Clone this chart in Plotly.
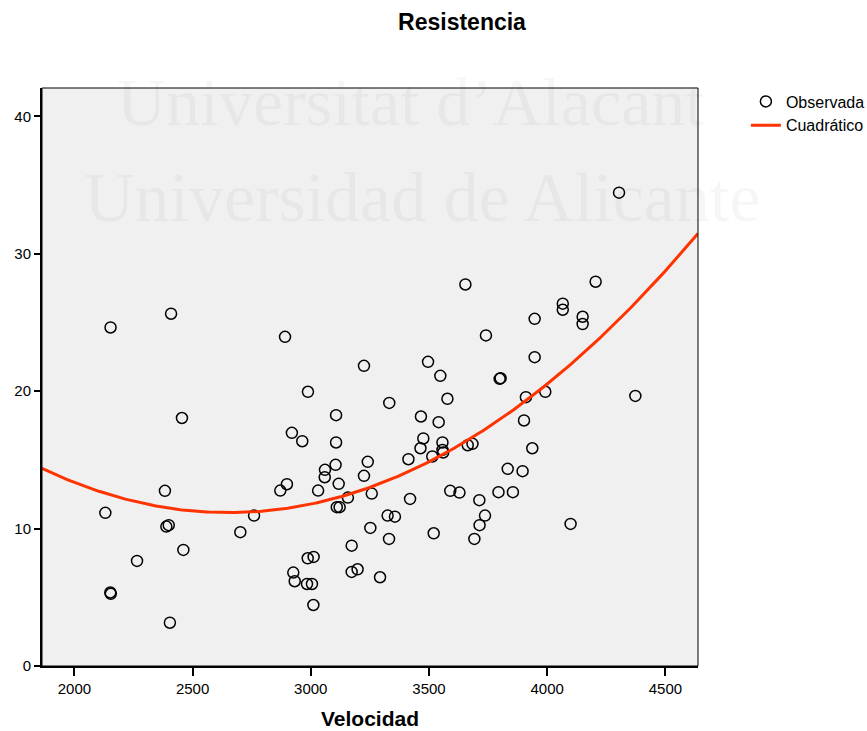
import numpy as np
import plotly.graph_objects as go

# ---- data ----
velocidad = [
    2153, 2409, 2891, 3225, 3654, 3741, 3496, 3548, 4304, 4205,
    4066, 4066, 4150, 4150, 3947, 3947, 3799, 3803, 2455, 2383,
    2131, 2389, 2399, 2760, 2702, 2461, 2265, 2152, 2154, 2404,
    2988, 3332, 3578, 3107, 3466, 3541, 2920, 2964, 3107, 3476,
    3557, 3464, 3557, 3560, 3514, 3664, 3684, 3413, 3241, 3105,
    3060, 3059, 3225, 3118, 2899, 2871, 3031, 3258, 3157, 3420,
    3590, 3629, 3713, 3737, 3714, 3692, 3110, 3122, 3325, 3356,
    3252, 3331, 3520, 3173, 2987, 3012, 2926, 2932, 2984, 3005,
    3011, 3173, 3198, 3293, 3910, 3992, 4373, 3902, 3937, 3833,
    3896, 3794, 3855, 4099,
]
resistencia = [
    24.64, 25.64, 23.96, 21.85, 27.77, 24.06, 22.14, 21.12, 34.45, 27.97,
    26.37, 25.93, 25.42, 24.89, 25.27, 22.48, 20.90, 20.95, 18.05, 12.75,
    11.15, 10.15, 10.25, 10.95, 9.74, 8.45, 7.65, 5.35, 5.25, 3.15,
    19.96, 19.15, 19.45, 18.26, 18.16, 17.75, 16.97, 16.36, 16.27, 16.56,
    16.27, 15.85, 15.73, 15.54, 15.25, 16.07, 16.17, 15.05, 14.86, 14.64,
    14.28, 13.74, 13.84, 13.26, 13.23, 12.77, 12.77, 12.55, 12.26, 12.16,
    12.75, 12.62, 12.07, 10.95, 10.25, 9.25, 11.56, 11.56, 10.95, 10.87,
    10.05, 9.25, 9.66, 8.76, 7.84, 7.94, 6.80, 6.17, 5.97, 5.97,
    4.44, 6.85, 7.04, 6.46, 19.57, 19.96, 19.66, 17.87, 15.85, 14.35,
    14.18, 12.65, 12.65, 10.34,
]
x_range = [1863, 4638]
y_range = [0, 42.07]
x_ticks = [2000, 2500, 3000, 3500, 4000, 4500]
y_ticks = [0, 10, 20, 30, 40]

# quadratic least-squares fit of the observations (as in the original "Cuadrático" model)
coef = np.polyfit(velocidad, resistencia, 2)
x_fit = np.linspace(x_range[0], x_range[1], 300)
y_fit = np.polyval(coef, x_fit)

FONT = "Liberation Sans, Arial, sans-serif"

fig = go.Figure()
fig.add_trace(go.Scatter(
    x=velocidad, y=resistencia, mode="markers", name="Observada",
    marker=dict(symbol="circle-open", size=11, color="black",
                line=dict(width=1.5, color="black")),
))
fig.add_trace(go.Scatter(
    x=x_fit, y=y_fit, mode="lines", name="Cuadrático",
    line=dict(color="#ff3300", width=3),
))

# watermark
wm = "rgba(0,0,0,0.035)"
fig.add_annotation(text="Universitat d\u2019Alacant", xref="paper", yref="paper",
                   x=0.562, y=0.975, xanchor="center", yanchor="middle",
                   showarrow=False, font=dict(family="Liberation Serif, serif", size=68, color=wm))
fig.add_annotation(text="Universidad de Alicante", xref="paper", yref="paper",
                   x=0.5796, y=0.810, xanchor="center", yanchor="middle",
                   showarrow=False, font=dict(family="Liberation Serif, serif", size=70, color=wm))

# thin frame on top/right
fig.add_shape(type="rect", xref="paper", yref="paper", x0=0, y0=0, x1=1, y1=1,
              line=dict(color="black", width=1), layer="above")

fig.update_layout(
    width=867, height=731,
    margin=dict(l=42, r=169, t=88, b=65, autoexpand=False),
    paper_bgcolor="white", plot_bgcolor="#f0f0f0",
    font=dict(family=FONT, size=15, color="black"),
    title=dict(text="<b>Resistencia</b>", x=462 / 867, xref="container", xanchor="center",
               y=1 - 22 / 731, yref="container", yanchor="middle",
               font=dict(family=FONT, size=23, color="black")),
    showlegend=True,
    legend=dict(x=1.073, y=1.006, xanchor="left", yanchor="top",
                font=dict(family=FONT, size=16, color="black"),
                bgcolor="rgba(0,0,0,0)", tracegroupgap=0),
)
fig.update_xaxes(
    range=x_range, tickvals=x_ticks, showgrid=False, zeroline=False,
    showline=True, linecolor="black", linewidth=2,
    ticks="outside", ticklen=8, tickwidth=2, tickcolor="black",
    tickfont=dict(family=FONT, size=15), automargin=False,
    title=dict(text="<b>Velocidad</b>", font=dict(family=FONT, size=21), standoff=15),
)
fig.update_yaxes(
    range=y_range, tickvals=y_ticks, showgrid=False, zeroline=False,
    showline=True, linecolor="black", linewidth=2,
    ticks="outside", ticklen=6, tickwidth=2, tickcolor="black",
    tickfont=dict(family=FONT, size=15), automargin=False,
)

fig.write_html("out.html")
